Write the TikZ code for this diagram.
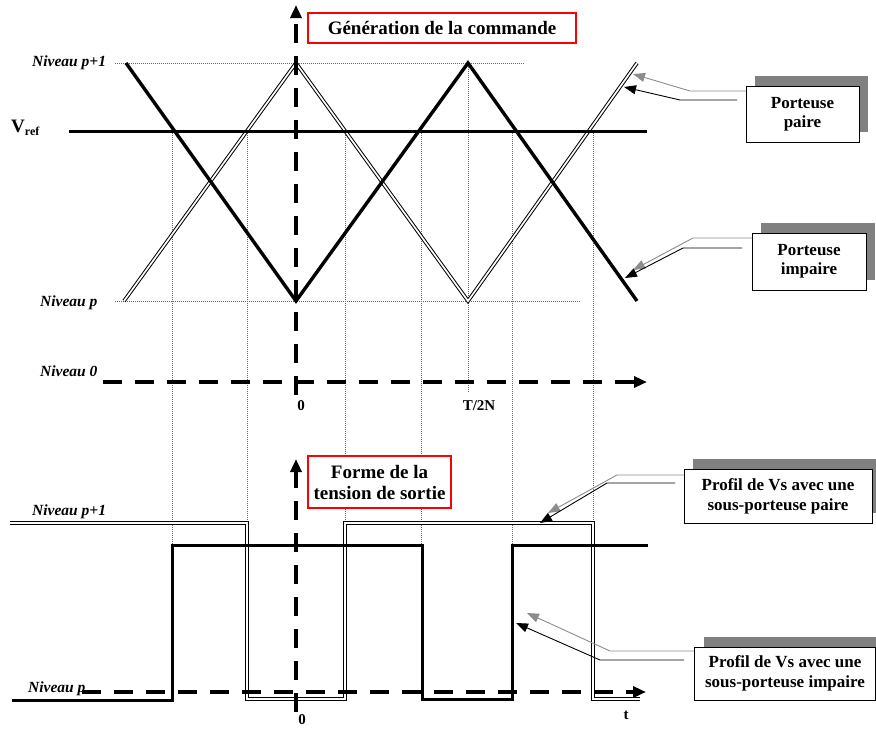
\documentclass[tikz,border=0pt]{standalone}
\usepackage{fontspec}
\setmainfont{Liberation Serif}
\usetikzlibrary{arrows.meta,shadows}
\definecolor{callgray}{RGB}{140,140,140}
\definecolor{shadowgray}{RGB}{128,128,128}
\begin{document}
\begin{tikzpicture}[x=1pt,y=-1pt,
  thickline/.style={line width=3.4pt, line join=miter},
  dbl/.style={draw=black, line width=1pt, double=white, double distance=1.7pt, line join=miter},
  gridline/.style={draw=black!60, line width=0.6pt, dash pattern=on 1pt off 1pt},
  axisdash/.style={line width=4pt, dash pattern=on 19pt off 13pt, -{Triangle[length=13pt,width=11pt]}},
  lvl/.style={font=\bfseries\itshape\fontsize{15.5}{17}\selectfont, anchor=west, inner sep=0pt},
  ticklbl/.style={font=\bfseries\fontsize{15}{17}\selectfont, inner sep=0pt},
  redbox/.style={draw=red, line width=1.6pt, fill=white, align=center, inner sep=0pt,
    font=\bfseries\fontsize{19}{21}\selectfont},
  callbox/.style={draw=black, line width=0.8pt, fill=white, align=center, inner sep=0pt,
    font=\bfseries\fontsize{17}{20}\selectfont,
    drop shadow={shadow xshift=9pt, shadow yshift=10pt, fill=shadowgray, opacity=1}},
  grayarrow/.style={draw=callgray, line width=0.9pt, -{Triangle[length=12pt,width=9pt]}},
  blackarrow/.style={draw=black, line width=0.9pt, -{Triangle[length=12pt,width=9pt]}}
]
\useasboundingbox (0,0) rectangle (876,729);

% ---------- grid lines ----------
\draw[gridline] (115,63) -- (525,63);
\draw[gridline] (115,301) -- (580,301);
\draw[gridline] (172,131) -- (172,545);
\draw[gridline] (247,131) -- (247,523);
\draw[gridline] (345,131) -- (345,523);
\draw[gridline] (421,131) -- (421,545);
\draw[gridline] (512,131) -- (512,545);
\draw[gridline] (593,131) -- (593,523);
\draw[gridline] (468,63) -- (468,392);

% ---------- carriers ----------
\draw[dbl] (124,301) -- (296,63) -- (468,301) -- (637,63);
\draw[thickline] (126,63) -- (296,301) -- (468,63) -- (637,301);
\draw[line width=3pt] (69,131) -- (647,131);

% ---------- output profiles ----------
\draw[dbl] (10,523) -- (247,523) -- (247,699) -- (345,699) -- (345,523) -- (593,523) -- (593,699) -- (640,699);
\draw[line width=3pt, line join=miter] (12,700) -- (172,700) -- (172,545) -- (422,545) -- (422,699) -- (512,699) -- (512,545) -- (648,545);

% ---------- axes ----------
\draw[axisdash] (296,395) -- (296,5);
\draw[axisdash] (103,382) -- (647,382);
\draw[axisdash] (296,712) -- (296,459);
\draw[axisdash] (82,692) -- (646,692);

% ---------- labels ----------
\node[lvl] (np1a) at (32,63) {Niveau p+1};
\node[anchor=west, inner sep=0pt, font=\bfseries\fontsize{19}{21}\selectfont] (vref) at (11,128) {V\raisebox{-0.35ex}{\fontsize{12}{12}\selectfont ref}};
\node[lvl] (npa) at (40,303) {Niveau p};
\node[lvl] (n0) at (40,371) {Niveau 0};
\node[ticklbl] (z1) at (301,406) {0};
\node[ticklbl] (t2n) at (479,406) {T/2N};
\node[lvl] (np1b) at (32,512) {Niveau p+1};
\node[lvl] (npb) at (28,689) {Niveau p};
\node[ticklbl] (z2) at (302,720) {0};
\node[ticklbl] (tl) at (626,715) {t};

% ---------- title boxes ----------
\node[redbox, minimum width=268pt, minimum height=30pt] (gen) at (442,28) {Génération de la commande};
\node[redbox, minimum width=143pt, minimum height=52pt] (forme) at (379.5,482) {Forme de la\\tension de sortie};

% ---------- callouts ----------
\node[callbox, minimum width=113pt, minimum height=56pt, font=\bfseries\fontsize{17}{19}\selectfont] (pp) at (802.5,114) {Porteuse\\paire};
\node[callbox, minimum width=114pt, minimum height=57pt, font=\bfseries\fontsize{17}{19}\selectfont] (pi) at (809,261.5) {Porteuse\\impaire};
\node[callbox, minimum width=188pt, minimum height=54pt] (vsp) at (778,496) {Profil de Vs avec une\\sous-porteuse paire};
\node[callbox, minimum width=181pt, minimum height=53pt] (vsi) at (785,673.5) {Profil de Vs avec une\\sous-porteuse impaire};

% paire
\coordinate (ppg0) at (746,91);  \coordinate (ppg1) at (690,91);  \coordinate (ppgt) at (633,74);
\coordinate (ppb0) at (737,100); \coordinate (ppb1) at (680,100); \coordinate (ppbt) at (624,87);
\draw[grayarrow] (ppg0) -- (ppg1) -- (ppgt);
\draw[blackarrow] (ppb0) -- (ppb1) -- (ppbt);
% impaire
\coordinate (pig0) at (752,238); \coordinate (pig1) at (693,238); \coordinate (pigt) at (633,270);
\coordinate (pib0) at (742,248); \coordinate (pib1) at (683,248); \coordinate (pibt) at (625,278);
\draw[grayarrow] (pig0) -- (pig1) -- (pigt);
\draw[blackarrow] (pib0) -- (pib1) -- (pibt);
% Vs paire
\coordinate (vpg0) at (684,475); \coordinate (vpg1) at (617,475); \coordinate (vpgt) at (548,513);
\coordinate (vpb0) at (675,483); \coordinate (vpb1) at (607,483); \coordinate (vpbt) at (540,523);
\draw[grayarrow] (vpg0) -- (vpg1) -- (vpgt);
\draw[blackarrow] (vpb0) -- (vpb1) -- (vpbt);
% Vs impaire
\coordinate (vig0) at (694,651); \coordinate (vig1) at (610,651); \coordinate (vigt) at (527,613);
\coordinate (vib0) at (684,660); \coordinate (vib1) at (600,660); \coordinate (vibt) at (516,623);
\draw[grayarrow] (vig0) -- (vig1) -- (vigt);
\draw[blackarrow] (vib0) -- (vib1) -- (vibt);
\end{tikzpicture}
\end{document}
